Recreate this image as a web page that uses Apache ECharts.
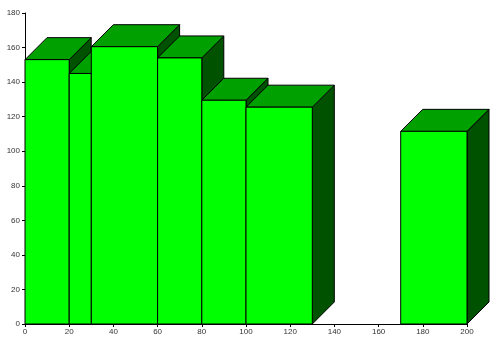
<!DOCTYPE html>
<html>
<head>
<meta charset="utf-8">
<script src="https://cdn.jsdelivr.net/npm/echarts@6/dist/echarts.min.js"></script>
<style>html,body{margin:0;padding:0;background:#fff}#c{width:500px;height:343px}</style>
</head>
<body>
<div id="c"></div>
<script>
var binStart = [0, 20, 30, 60, 80, 100, 170];
var binEnd   = [20, 30, 60, 80, 100, 130, 200];
var values   = [153, 145, 160.5, 154, 129.5, 125.5, 111.5];
var xTicks = [0, 20, 40, 60, 80, 100, 120, 140, 160, 180, 200];
var yTicks = [0, 20, 40, 60, 80, 100, 120, 140, 160, 180];

var DX = 22, DY = 22;
var data = binStart.map(function (s, i) { return [s, binEnd[i], values[i]]; });

var chart = echarts.init(document.getElementById('c'), null, {renderer: 'canvas'});
chart.setOption({
  animation: false,
  grid: {left: 25, right: 33, top: 13, bottom: 19},
  xAxis: {
    type: 'value', min: 0, max: 200, interval: 20,
    axisLine: {show: true, onZero: false, lineStyle: {color: '#000', width: 1}},
    axisTick: {show: true, length: 3, lineStyle: {color: '#000'}},
    axisLabel: {fontSize: 8, color: '#333', fontFamily: 'Liberation Sans, Arial', margin: 4},
    splitLine: {show: false}
  },
  yAxis: {
    type: 'value', min: 0, max: 180, interval: 20,
    axisLine: {show: true, lineStyle: {color: '#000', width: 1}},
    axisTick: {show: true, length: 3, lineStyle: {color: '#000'}},
    axisLabel: {fontSize: 8, color: '#333', fontFamily: 'Liberation Sans, Arial', margin: 5},
    splitLine: {show: false}
  },
  series: [{
    type: 'custom',
    clip: false,
    data: data,
    renderItem: function (params, api) {
      var p0 = api.coord([api.value(0), 0]);
      var p1 = api.coord([api.value(1), api.value(2)]);
      var x0 = p0[0], yb = p0[1], x1 = p1[0], yt = p1[1];
      var st = {stroke: '#000', lineWidth: 1};
      return {
        type: 'group',
        children: [
          {type: 'polygon', shape: {points: [[x1, yb], [x1 + DX, yb - DY], [x1 + DX, yt - DY], [x1, yt]]},
            style: Object.assign({fill: '#005200'}, st)},
          {type: 'polygon', shape: {points: [[x0, yt], [x1, yt], [x1 + DX, yt - DY], [x0 + DX, yt - DY]]},
            style: Object.assign({fill: '#00a000'}, st)},
          {type: 'rect', shape: {x: x0, y: yt, width: x1 - x0, height: yb - yt},
            style: Object.assign({fill: '#00ff00'}, st)}
        ]
      };
    }
  }]
});
</script>
</body>
</html>
